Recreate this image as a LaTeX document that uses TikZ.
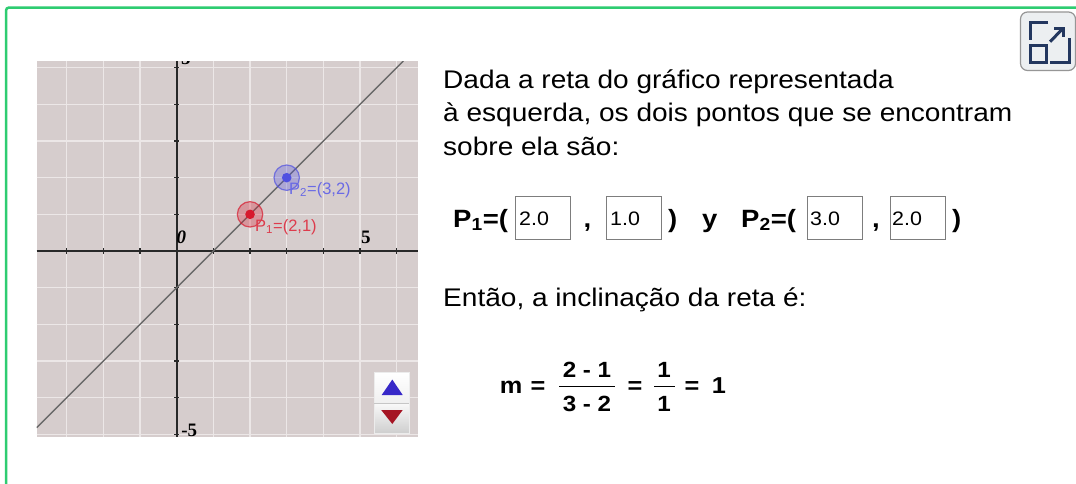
\documentclass[tikz,border=0pt]{standalone}
\usepackage{fontspec}
\setmainfont{Liberation Sans}[FakeStretch=1.1]
\newfontfamily\plainsans{Liberation Sans}
\newfontfamily\serifb{Liberation Serif}
\definecolor{graphbg}{RGB}{214,205,205}
\definecolor{gridc}{RGB}{236,231,231}
\definecolor{axisc}{RGB}{40,40,40}
\definecolor{linec}{RGB}{105,105,105}
\definecolor{ptred}{RGB}{215,25,45}
\definecolor{ptblue}{RGB}{80,80,225}
\definecolor{frameg}{RGB}{46,204,113}
\definecolor{navy}{RGB}{35,55,95}
\definecolor{iconbg}{RGB}{236,239,241}
\definecolor{iconbd}{RGB}{150,150,150}
\definecolor{boxbd}{RGB}{125,125,125}
\definecolor{upblue}{RGB}{55,40,200}
\definecolor{downred}{RGB}{165,20,35}
\begin{document}
\begin{tikzpicture}[x=1pt,y=-1pt,
  gridline/.style={gridc,line width=1.3pt},
  axisline/.style={axisc,line width=1.6pt},
  fnline/.style={linec,line width=1.3pt},
  axlab/.style={font=\serifb\bfseries\fontsize{19}{19}\selectfont,inner sep=0pt},
  ptlab/.style={font=\plainsans\fontsize{16.5}{17}\selectfont,inner sep=0pt,anchor=west},
  bodytext/.style={font=\fontsize{25.5}{28}\selectfont,inner sep=0pt,anchor=base west},
  boldtext/.style={font=\bfseries\fontsize{25}{28}\selectfont,inner sep=0pt,anchor=base west},
  inbox/.style={draw=boxbd,line width=1pt,minimum width=55pt,minimum height=43pt,inner sep=0pt},
  boxtext/.style={font=\fontsize{19.5}{20}\selectfont,inner sep=0pt,anchor=base west},
  eqtext/.style={font=\bfseries\fontsize{23}{24}\selectfont,inner sep=0pt,anchor=base},
  fractext/.style={font=\bfseries\fontsize{22}{24}\selectfont,inner sep=0pt,anchor=base},
  iconline/.style={navy,line width=3pt}
]
\useasboundingbox (0,0) rectangle (1076,483);
\fill[white] (0,0) rectangle (1076,483);
% green frame
\draw[frameg,line width=2.5pt,rounded corners=3pt] (6,495) -- (6,7.5) -- (1090,7.5);

% graph
\begin{scope}[shift={(176.7,251)},x=36.67pt,y=36.67pt]
  \fill[graphbg] (-3.82,-5.07) rectangle (6.58,5.18);
  \begin{scope}
    \clip (-3.82,-5.07) rectangle (6.58,5.18);
    \foreach \i in {-3,...,6} \draw[gridline] (\i,-5.07) -- (\i,5.18);
    \foreach \j in {-5,...,5} \draw[gridline] (-3.82,\j) -- (6.58,\j);
    \draw[axisline] (-3.82,0) -- (6.58,0);
    \draw[axisline] (0,-5.07) -- (0,5.18);
    \foreach \i in {-3,...,6} \draw[axisc,line width=1.2pt] (\i,-0.07) -- (\i,0.07);
    \foreach \j in {-5,...,5} \draw[axisc,line width=1.2pt] (-0.07,\j) -- (0.07,\j);
    \coordinate (L0) at (-3.82,-4.82);
    \coordinate (L1) at (6.18,5.18);
    \draw[fnline] (L0) -- (L1);
    \node[axlab,font=\serifb\bfseries\itshape\fontsize{19}{19}\selectfont] (lab0) at (0.13,0.38) {0};
    \node[axlab] (labx5) at (5.16,0.36) {5};
    \node[axlab] (laby5) at (0.25,5.25) {5};
    \node[axlab] (labym5) at (0.34,-4.88) {-5};
    \coordinate (P1) at (2,1);
    \coordinate (P2) at (3,2);
    \fill[ptred,fill opacity=0.3] (P1) circle[radius=12.7pt];
    \draw[ptred,line width=1.2pt,opacity=0.7] (P1) circle[radius=12.7pt];
    \fill[ptred] (P1) circle[radius=4.8pt];
    \fill[ptblue,fill opacity=0.3] (P2) circle[radius=12.7pt];
    \draw[ptblue,line width=1.2pt,opacity=0.7] (P2) circle[radius=12.7pt];
    \fill[ptblue] (P2) circle[radius=4.8pt];
  \end{scope}
\end{scope}
\node[ptlab,text=ptred!85] (P1lab) at (255,227) {P\textsubscript{1}=(2,1)};
\node[ptlab,text=ptblue!85] (P2lab) at (289,190) {P\textsubscript{2}=(3,2)};

% spin buttons
\shade[top color=white,bottom color=gray!12] (374,372) rectangle (409,403.3);
\shade[top color=gray!5,bottom color=gray!38] (374,403.3) rectangle (409,433);
\draw[white!85!gray,line width=0.8pt] (374,372) rectangle (409,433);
\draw[gray!45,line width=1pt] (374,403.3) -- (409,403.3);
\fill[upblue] (392.3,379.5) -- (402.7,395) -- (381.7,395) -- cycle;
\fill[downred] (381.2,410) -- (402.7,410) -- (392.3,424) -- cycle;

% expand icon
\draw[iconbd,fill=iconbg,line width=1.2pt,rounded corners=7pt] (1020.5,12) rectangle (1075.5,70.5);
\draw[iconline] (1048,22.7) -- (1030,22.7) -- (1030,40);
\draw[iconline] (1069.3,38.3) -- (1069.3,62.7) -- (1050,62.7);
\draw[iconline] (1030,45.5) rectangle (1046,62.7);
\draw[iconline] (1050,41.7) -- (1062.5,29);
\draw[iconline] (1054,28.3) -- (1063,28.3) -- (1063,37);

% text
\node[bodytext] (t1) at (443,88) {Dada a reta do gráfico representada};
\node[bodytext] (t2) at (443,121.5) {à esquerda, os dois pontos que se encontram};
\node[bodytext] (t3) at (443,155) {sobre ela são:};

\node[boldtext] (p1) at (453,227) {P\textsubscript{1}=(};
\node[inbox] (b1) at (543,217.5) {};
\node[boxtext] (b1t) at (519,225) {2.0};
\node[boldtext] (c1) at (583.5,227) {,};
\node[inbox] (b2) at (634,217.5) {};
\node[boxtext] (b2t) at (610,225) {1.0};
\node[boldtext] (r1) at (668,227) {)};
\node[boldtext] (yy) at (702,227) {y};
\node[boldtext] (p2) at (741,227) {P\textsubscript{2}=(};
\node[inbox] (b3) at (835,217.5) {};
\node[boxtext] (b3t) at (810,225) {3.0};
\node[boldtext] (c2) at (872,227) {,};
\node[inbox] (b4) at (918,217.5) {};
\node[boxtext] (b4t) at (892,225) {2.0};
\node[boldtext] (r2) at (952,227) {)};

\node[bodytext] (t4) at (443,306) {Então, a inclinação da reta é:};

% equation
\node[eqtext] (m) at (511,393) {m};
\node[eqtext] (eq1) at (538,393) {=};
\node[fractext] (n1) at (587,377) {2 - 1};
\draw[line width=1.4pt] (559,386.5) -- (615,386.5);
\node[fractext] (d1) at (587,411.5) {3 - 2};
\node[eqtext] (eq2) at (635,393) {=};
\node[fractext] (n2) at (664,377) {1};
\draw[line width=1.4pt] (654,386.5) -- (675,386.5);
\node[fractext] (d2) at (664,411.5) {1};
\node[eqtext] (eq3) at (692,393) {=};
\node[eqtext] (one) at (719,393) {1};
\end{tikzpicture}
\end{document}
